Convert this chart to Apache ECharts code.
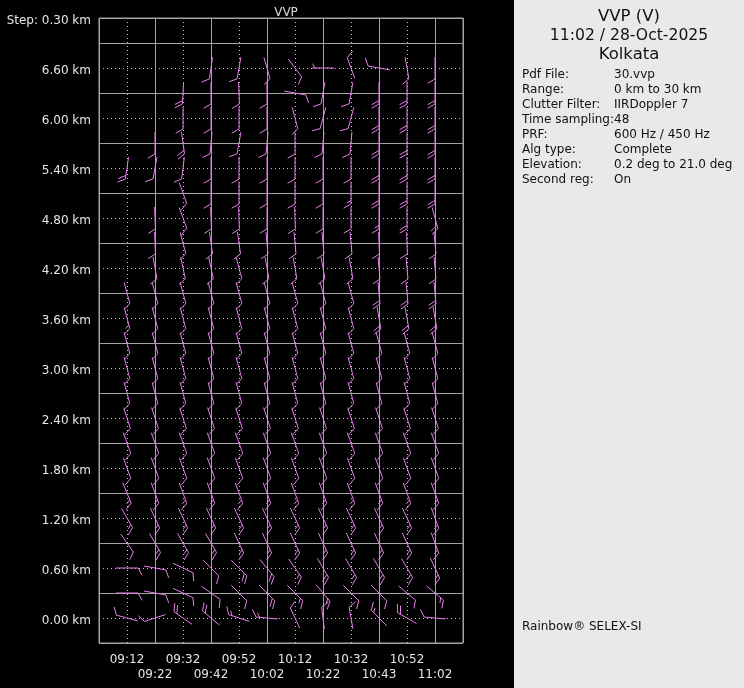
<!DOCTYPE html>
<html><head><meta charset="utf-8">
<script src="https://cdn.jsdelivr.net/npm/echarts@6/dist/echarts.min.js"></script>
<style>html,body{margin:0;padding:0;background:#000}#c{width:744px;height:688px}</style>
</head><body><div id="c"></div><script>
// time columns (x positions 1..12)
const times = ['09:12','09:22','09:32','09:42','09:52','10:02','10:12','10:22','10:32','10:43','10:52','11:02'];
// height levels (km)
const levelsKm = [0.0,0.3,0.6,0.9,1.2,1.5,1.8,2.1,2.4,2.7,3.0,3.3,3.6,3.9,4.2,4.5,4.8,5.1,5.4,5.7,6.0,6.3,6.6];
// wind direction (deg, from) and speed (kt) per time column, bottom to top
const dir_0912 = [285,90,90,145,150,158,160,160,162,165,165,165,165,165,null,null,null,null,188,null,null,null,null];
const spd_0912 = [10,10,10,10,15,15,10,10,10,10,10,10,15,10,null,null,null,null,20,null,null,null,null];
const dir_0922 = [252,100,100,150,155,160,160,160,162,165,165,165,165,165,170,178,178,null,190,180,null,null,null];
const spd_0922 = [10,10,10,15,15,15,10,10,10,10,10,10,10,10,10,10,10,null,10,10,null,null,null];
const dir_0932 = [305,115,115,150,155,160,160,160,162,165,165,165,165,165,168,165,160,160,187,172,180,183,null];
const spd_0932 = [20,10,10,15,15,15,10,10,10,10,10,10,10,10,10,10,10,10,10,20,10,20,null];
const dir_0942 = [310,125,135,150,155,160,160,160,162,165,165,165,165,165,168,172,178,180,180,185,180,180,188];
const spd_0942 = [20,10,10,15,15,15,10,10,10,10,10,10,10,10,10,10,10,10,10,10,10,10,10];
const dir_0952 = [288,135,135,155,155,160,160,160,162,165,165,165,165,165,165,172,178,180,180,190,180,178,190];
const spd_0952 = [15,10,20,15,15,15,10,10,10,10,10,10,10,10,10,10,10,10,10,10,10,10,10];
const dir_1002 = [275,135,140,155,155,160,160,160,162,165,165,165,165,165,170,175,180,180,180,185,180,180,164];
const spd_1002 = [15,20,20,15,15,15,10,10,10,10,10,10,10,10,10,10,10,10,10,10,10,10,10];
const dir_1012 = [335,135,145,155,155,160,160,160,162,165,165,165,165,165,170,175,178,180,180,180,165,100,143];
const spd_1012 = [10,15,15,15,15,15,10,10,10,10,10,10,10,10,10,10,10,10,10,10,10,10,10];
const dir_1022 = [353,140,150,155,155,160,160,160,162,165,165,165,165,165,170,175,180,180,180,185,195,190,270];
const spd_1022 = [10,15,20,15,15,15,10,10,10,10,10,10,10,10,10,10,10,10,10,10,10,10,5];
const dir_1032 = [350,135,150,155,155,160,160,160,162,165,165,165,165,165,170,175,180,180,180,185,195,190,340];
const spd_1032 = [10,10,15,15,15,15,10,10,10,10,10,10,10,10,10,10,10,15,10,10,10,10,10];
const dir_1043 = [315,135,150,155,155,160,160,160,162,165,165,165,170,175,175,178,180,180,180,180,180,180,280];
const spd_1043 = [15,10,15,15,15,15,10,10,10,10,10,10,20,20,10,10,15,20,20,20,20,20,10];
const dir_1052 = [300,130,150,155,155,160,160,160,162,165,165,165,170,175,175,178,180,180,180,180,180,180,170];
const spd_1052 = [20,10,15,15,15,15,10,10,10,10,10,10,20,20,10,10,20,20,20,20,20,20,10];
const dir_1102 = [275,130,155,160,160,160,160,160,162,165,165,165,170,175,175,175,165,180,180,180,180,180,180];
const spd_1102 = [10,15,15,15,15,15,10,10,10,10,10,10,20,20,10,10,20,20,20,20,20,20,10];

const dirCols = [dir_0912,dir_0922,dir_0932,dir_0942,dir_0952,dir_1002,dir_1012,dir_1022,dir_1032,dir_1043,dir_1052,dir_1102];
const spdCols = [spd_0912,spd_0922,spd_0932,spd_0942,spd_0952,spd_1002,spd_1012,spd_1022,spd_1032,spd_1043,spd_1052,spd_1102];

const infoLabels = ['Pdf File:','Range:','Clutter Filter:','Time sampling:','PRF:','Alg type:','Elevation:','Second reg:'];
const infoValues = ['30.vvp','0 km to 30 km','IIRDoppler 7','48','600 Hz / 450 Hz','Complete','0.2 deg to 21.0 deg','On'];

const data = [];
dirCols.forEach((col, i) => {
  col.forEach((d, k) => {
    if (d !== null) data.push([i + 1, levelsKm[k], d, spdCols[i][k]]);
  });
});

const BARB = '#e67fea';
const FONT = '"DejaVu Sans", sans-serif';

function renderBarb(params, api) {
  const c = api.coord([api.value(0), api.value(1)]);
  const th = api.value(2) * Math.PI / 180;
  const spd = api.value(3);
  const ux = Math.sin(th), uy = -Math.cos(th);
  const half = 11;
  const tip = [c[0] + ux * half, c[1] + uy * half];
  const tail = [c[0] - ux * half, c[1] - uy * half];
  const style = { stroke: BARB, lineWidth: 1 };
  const children = [{ type: 'line', shape: { x1: tail[0], y1: tail[1], x2: tip[0], y2: tip[1] }, style }];
  const phi = 60 * Math.PI / 180;
  const fx = ux * Math.cos(phi) - uy * Math.sin(phi);
  const fy = ux * Math.sin(phi) + uy * Math.cos(phi);
  let n10 = Math.floor(spd / 10);
  let n5 = Math.round((spd - n10 * 10) / 5);
  let pos = 0;
  for (let j = 0; j < n10; j++) {
    const bx = tip[0] - ux * pos, by = tip[1] - uy * pos;
    children.push({ type: 'line', shape: { x1: bx, y1: by, x2: bx + fx * 8.5, y2: by + fy * 8.5 }, style });
    pos += 3.5;
  }
  if (n5) {
    if (n10 === 0) pos = 3;
    const bx = tip[0] - ux * pos, by = tip[1] - uy * pos;
    children.push({ type: 'line', shape: { x1: bx, y1: by, x2: bx + fx * 5, y2: by + fy * 5 }, style });
  }
  return { type: 'group', children };
}

const chart = echarts.init(document.getElementById('c'), null, { renderer: 'canvas' });
const gridColor = '#a4a4a4';
const dotColor = '#c4c4c4';

function txt(t, x, y, size, align) {
  return { type: 'text', x: x, y: y, style: { text: t, font: size + 'px ' + FONT, fill: '#111', align: align, verticalAlign: 'middle', textAlign: align, textVerticalAlign: 'middle' } };
}
const graphics = [
  { type: 'rect', left: 514, top: 0, shape: { width: 230, height: 688 }, style: { fill: '#e9e9e9' }, z: -10 },
  txt('VVP (V)', 629, 17, 16.5, 'center'),
  txt('11:02 / 28-Oct-2025', 629, 36, 15.6, 'center'),
  txt('Kolkata', 629, 55, 16.5, 'center'),
  txt('Rainbow® SELEX-SI', 522, 627, 12, 'left')
];
infoLabels.forEach((t, j) => {
  graphics.push(txt(t, 522, 75 + j * 15, 12, 'left'));
  graphics.push(txt(infoValues[j], 614, 75 + j * 15, 12, 'left'));
});

chart.setOption({
  backgroundColor: '#000',
  animation: false,
  title: { text: 'VVP', left: 281, top: 2, textAlign: 'center', textStyle: { color: '#dcdcdc', fontSize: 12, fontWeight: 'normal', fontFamily: FONT } },
  graphic: graphics,
  grid: { left: 99, top: 18, width: 364, height: 625, show: true, borderColor: gridColor, borderWidth: 1, backgroundColor: 'transparent' },
  xAxis: [
    { type: 'value', min: 0, max: 13, interval: 1, position: 'bottom', z: 1,
      axisLine: { show: false }, axisTick: { show: false },
      splitLine: { show: true, lineStyle: { color: dotColor, type: [1, 3], width: 1 } },
      axisLabel: { margin: 11, color: '#e6e6e6', fontSize: 12, fontFamily: FONT,
        formatter: v => (v >= 1 && v <= 12 && v % 2 === 1) ? times[v - 1] : '' } },
    { type: 'value', min: 0, max: 13, interval: 2, position: 'bottom', z: 2,
      axisLine: { show: false }, axisTick: { show: false },
      splitLine: { show: true, lineStyle: { color: gridColor, type: 'solid', width: 1 } },
      axisLabel: { margin: 26, color: '#e6e6e6', fontSize: 12, fontFamily: FONT,
        formatter: v => (v >= 2 && v <= 12 && v % 2 === 0) ? times[v - 1] : '' } }
  ],
  yAxis: [
    { type: 'value', min: -0.3, max: 7.2, interval: 0.3, z: 1,
      axisLine: { show: false }, axisTick: { show: false },
      splitLine: { show: true, lineStyle: { color: dotColor, type: [1, 3], width: 1 } },
      axisLabel: { margin: 8, color: '#e6e6e6', fontSize: 12, fontFamily: FONT,
        formatter: v => {
          const k = Math.round(v / 0.3);
          if (k === 24) return '{l|Step: 0.30 km}';
          if (k < 0 || k > 22 || k % 2) return '';
          return '{l|' + (k * 0.3).toFixed(2) + ' km}';
        },
        rich: { l: { color: '#e6e6e6', fontSize: 12, fontFamily: FONT, padding: [6, 0, 0, 0] } } } },
    { type: 'value', min: 0, max: 7.5, interval: 0.6, z: 2,
      axisLine: { show: false }, axisTick: { show: false }, axisLabel: { show: false },
      splitLine: { show: true, lineStyle: { color: gridColor, type: 'solid', width: 1 } } }
  ],
  series: [{
    type: 'custom', xAxisIndex: 0, yAxisIndex: 0, z: 5, clip: false,
    renderItem: renderBarb,
    data: data
  }]
});
</script></body></html>
